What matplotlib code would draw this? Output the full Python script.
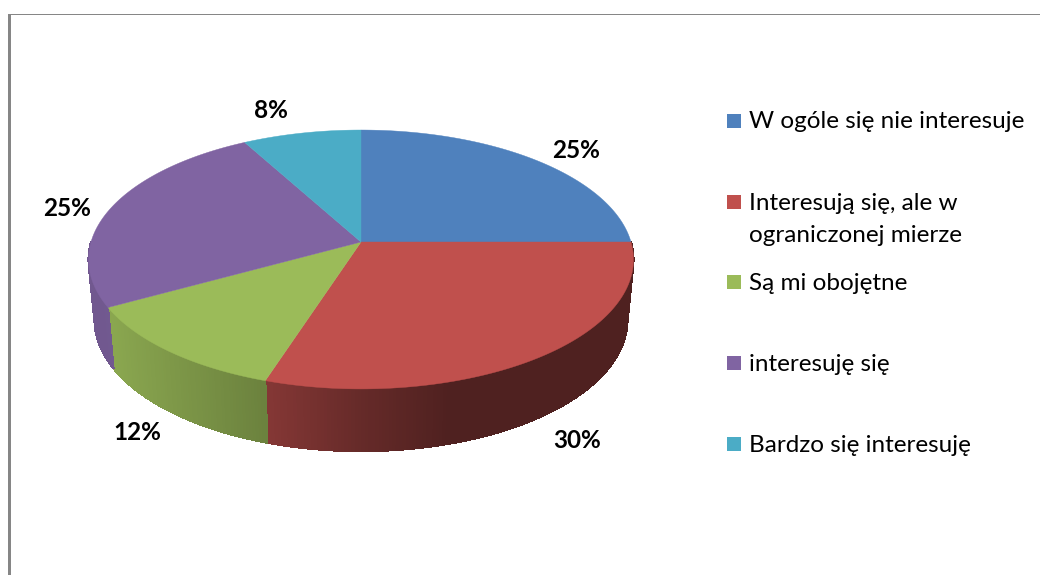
import numpy as np
import matplotlib
matplotlib.use("Agg")
import matplotlib.pyplot as plt
from matplotlib.patches import Polygon, Rectangle

categories = ["W ogóle się nie interesuje", "Interesują się, ale w\nograniczonej mierze",
              "Są mi obojętne", "interesuję się", "Bardzo się interesuję"]
values = [25, 30, 12, 25, 8]
percent_labels = ["25%", "30%", "12%", "25%", "8%"]
colors = ["#4F81BD", "#C0504D", "#9BBB59", "#8064A2", "#4BACC6"]

fig = plt.figure(figsize=(10.4, 5.75), dpi=100, facecolor="white")
ax = fig.add_axes([0, 0, 1, 1])
ax.set_xlim(0, 1040)
ax.set_ylim(575, 0)
ax.axis("off")

# frame
ax.add_patch(Rectangle((8, 14), 3, 561, fc="#868686", ec="none"))
ax.add_patch(Rectangle((8, 14), 1032, 1.4, fc="#868686", ec="none"))


def project(theta, cy=242.0, a=270.0, b=127.1, k=0.135):
    u, v = np.sin(theta), np.cos(theta)
    w = 1 + k * v
    return 361 + a * u / w, cy - b * v / w


def top_xy(t):
    return project(t)


def bot_xy(t):
    return project(t, cy=302.0, a=264.0, b=129.0)


def shade(x):
    return np.interp(x, [95, 110, 266, 360, 450], [0.88, 0.89, 0.69, 0.53, 0.41])


edges = np.cumsum([0] + values) / sum(values) * 2 * np.pi
VIS_START, VIS_END = np.pi / 2, 3 * np.pi / 2

# side wall, in small strips so the shading varies along the rim
for i, c in enumerate(colors):
    t0, t1 = max(edges[i], VIS_START), min(edges[i + 1], VIS_END)
    if t1 <= t0:
        continue
    n = max(int((t1 - t0) * 90), 2)
    ts = np.linspace(t0, t1, n + 1)
    base = np.array(matplotlib.colors.to_rgb(c))
    for a, b in zip(ts[:-1], ts[1:]):
        xa, ya = top_xy(a)
        xb, yb = top_xy(b)
        xc, yc = bot_xy(b)
        xd, yd = bot_xy(a)
        col = base * shade((xa + xb) / 2)
        ax.add_patch(Polygon([(xa, ya), (xb, yb), (xc, yc), (xd, yd)], closed=True,
                             fc=col, ec=col, lw=0.8, antialiased=False))

# top face
for i, c in enumerate(colors):
    ts = np.linspace(edges[i], edges[i + 1], 120)
    xs, ys = top_xy(ts)
    pts = [(361, 242)] + list(zip(xs, ys))
    ax.add_patch(Polygon(pts, closed=True, fc=c, ec=c, lw=0.3))

# data labels
label_pos = [(576, 150), (577, 441), (137, 432), (67, 209), (271, 111)]
for txt, (x, y) in zip(percent_labels, label_pos):
    ax.text(x, y, txt, ha="center", va="center", fontsize=17.5, fontweight="bold",
            family="Lato", color="black")

# legend
swatch_tops = [114, 195, 275, 356, 437]
baselines = [128, 210, 290, 371, 452]
for name, c, top, base in zip(categories, colors, swatch_tops, baselines):
    ax.add_patch(Rectangle((727, top), 14, 14, fc=c, ec="none"))
    for j, line in enumerate(name.split("\n")):
        ax.text(749, base + 32 * j, line, ha="left", va="baseline", fontsize=17.5,
                family="Lato", color="black")

fig.savefig("out.png", dpi=100, facecolor="white")
